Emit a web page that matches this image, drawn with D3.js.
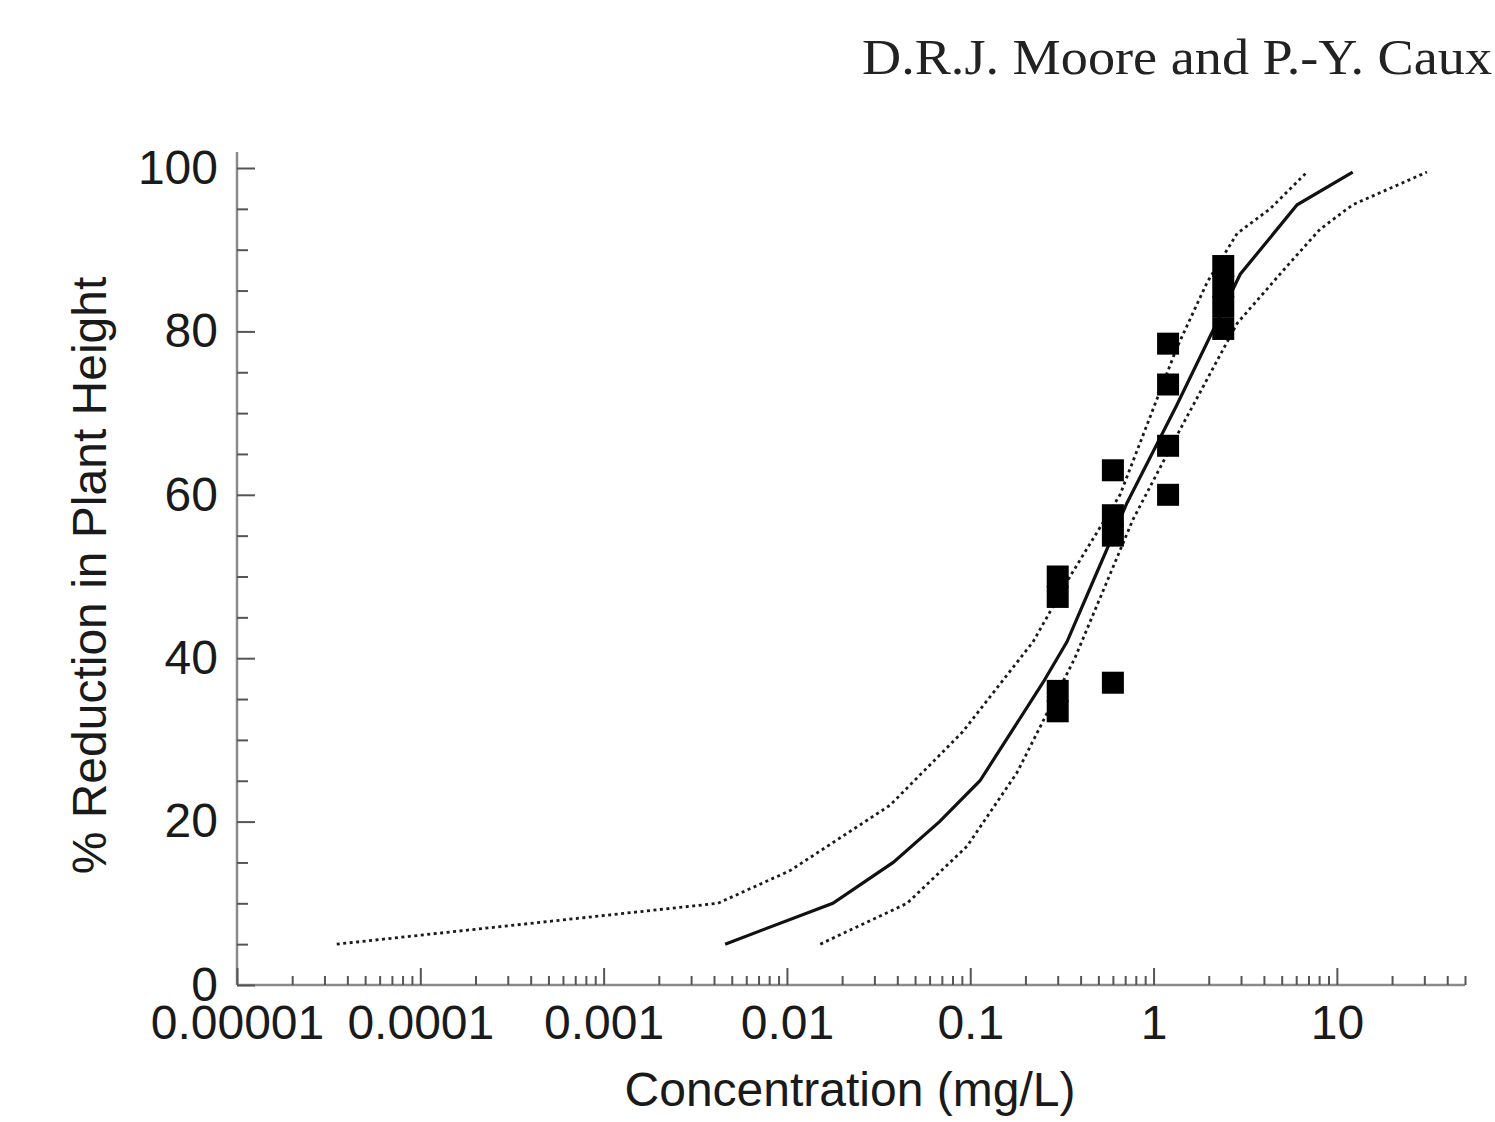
<!DOCTYPE html>
<html>
<head>
<meta charset="utf-8">
<script src="https://cdn.jsdelivr.net/npm/d3@7"></script>
<style>
    body { margin: 0; background: #fff; }
    svg { display: block; }
    .axis text { font-family: "Liberation Sans", Arial, sans-serif; font-size: 48px; fill: #1a1a1a; }
    .axis path { display: none; }
    .axis line { stroke: #555; stroke-width: 2; }
    .axisLine { stroke: #8a8a8a; stroke-width: 2.5; }
    .title { font-family: "Liberation Sans", Arial, sans-serif; font-size: 48px; fill: #1a1a1a; text-anchor: middle; }
    #header { font-family: "Liberation Serif", "Times New Roman", serif; font-size: 50px; fill: #222; text-anchor: end; }
</style>
</head>
<body>
<script>
'use strict';

// observed responses (mg/L, % reduction)
const obsConc = [0.3, 0.3, 0.3, 0.3, 0.6, 0.6, 0.6, 0.6, 1.2, 1.2, 1.2, 1.2, 2.4, 2.4, 2.4, 2.4];
const obsPct = [50, 47.5, 36, 33.5, 63, 57.5, 55, 37, 78.5, 73.5, 66, 60, 88, 85.5, 83, 80.3];

// fitted curve
const fitConc = [0.0046, 0.0178, 0.038, 0.068, 0.113, 0.249, 0.337, 0.48, 0.716, 1.34, 2.97, 6.07, 12.2];
const fitPct = [5, 10, 15, 20, 25, 37, 42, 50, 59, 71, 87, 95.5, 99.5];

// upper confidence limit (left dotted line)
const upperConc = [0.000035, 0.0042, 0.0104, 0.0365, 0.091, 0.22, 0.35, 0.656, 1.34, 1.96, 2.86, 4.32, 6.87];
const upperPct = [5, 10, 14, 22, 31, 42, 50, 60, 78, 86, 92, 95, 99.5];

// lower confidence limit (right dotted line)
const lowerConc = [0.0152, 0.0452, 0.0962, 0.18, 0.372, 0.773, 1.396, 2.86, 5.35, 8.09, 12.2, 31.0];
const lowerPct = [5, 10, 17, 26, 40, 57, 68, 81, 88, 92.5, 95.5, 99.5];

const xTickValues = [0.00001, 0.0001, 0.001, 0.01, 0.1, 1, 10];
const xTickLabels = ['0.00001', '0.0001', '0.001', '0.01', '0.1', '1', '10'];
const yTickValues = [0, 20, 40, 60, 80, 100];
const yMinorTicks = [5, 10, 15, 25, 30, 35, 45, 50, 55, 65, 70, 75, 85, 90, 95];

(function () {

    function getPlotArea() {
        const plot = {
            svg: { width: 1495, height: 1122 },
            padding: { top: 168, right: 25, bottom: 137, left: 237 }
        };
        plot.range = {
            x: 1228,
            y: plot.svg.height - plot.padding.top - plot.padding.bottom
        };
        return plot;
    }

    function makeScales(plot) {
        return {
            x: d3.scaleLog().domain([0.00001, 50]).range([0, plot.range.x]),
            y: d3.scaleLinear().domain([0, 100]).range([plot.range.y, 0])
        };
    }

    function xMinorValues(scales) {
        const vals = [];
        const [lo, hi] = scales.x.domain();
        for (let e = -5; e <= 1; e++) {
            for (let m = 2; m <= 9; m++) {
                const v = m * Math.pow(10, e);
                if (v >= lo && v <= hi) vals.push(v);
            }
        }
        return vals;
    }

    function appendAxes(g, scales, plot) {
        // axis lines
        g.append('line').attr('class', 'axisLine')
            .attr('x1', 0).attr('x2', 0)
            .attr('y1', scales.y(0)).attr('y2', scales.y(100) - 16);
        g.append('line').attr('class', 'axisLine')
            .attr('x1', 0).attr('x2', plot.range.x)
            .attr('y1', scales.y(0)).attr('y2', scales.y(0));

        // y ticks point inward
        g.append('g').attr('class', 'axis')
            .call(d3.axisLeft(scales.y).tickValues(yTickValues)
                .tickSizeInner(-18).tickSizeOuter(0).tickPadding(19));
        g.append('g').attr('class', 'axis')
            .call(d3.axisLeft(scales.y).tickValues(yMinorTicks)
                .tickSizeInner(-11).tickSizeOuter(0).tickFormat(''));

        // x ticks point upward
        g.append('g').attr('class', 'axis')
            .attr('transform', 'translate(0,' + plot.range.y + ')')
            .call(d3.axisBottom(scales.x).tickValues(xTickValues)
                .tickSizeInner(-17).tickSizeOuter(0).tickPadding(20)
                .tickFormat((d, i) => xTickLabels[i]));
        g.append('g').attr('class', 'axis')
            .attr('transform', 'translate(0,' + plot.range.y + ')')
            .call(d3.axisBottom(scales.x).tickValues(xMinorValues(scales))
                .tickSizeInner(-9).tickSizeOuter(0).tickFormat(''));
    }

    function appendCurve(g, scales, conc, pct, dashed) {
        const line = d3.line()
            .x((d) => scales.x(d[0]))
            .y((d) => scales.y(d[1]));
        g.append('path')
            .datum(conc.map((c, i) => [c, pct[i]]))
            .attr('fill', 'none')
            .attr('stroke', dashed ? '#1a1a1a' : '#111')
            .attr('stroke-width', dashed ? 2.8 : 3.2)
            .attr('stroke-dasharray', dashed ? '3,3.5' : null)
            .attr('d', line);
    }

    function appendPoints(g, scales) {
        const s = 22;
        g.append('g').selectAll('rect')
            .data(obsConc.map((c, i) => [c, obsPct[i]]))
            .enter()
            .append('rect')
            .attr('x', (d) => scales.x(d[0]) - s / 2)
            .attr('y', (d) => scales.y(d[1]) - s / 2)
            .attr('width', s)
            .attr('height', s)
            .attr('fill', '#000');
    }

    function appendTitles(svg, plot) {
        svg.append('text')
            .attr('id', 'header')
            .attr('x', 1492)
            .attr('y', 74)
            .attr('textLength', 630)
            .attr('lengthAdjust', 'spacingAndGlyphs')
            .text('D.R.J. Moore and P.-Y. Caux');
        svg.append('text')
            .attr('class', 'title')
            .attr('x', 850)
            .attr('y', 1106)
            .text('Concentration (mg/L)');
        svg.append('text')
            .attr('class', 'title')
            .attr('transform', 'translate(106,' + (plot.padding.top + plot.range.y / 2 - 1) + ') rotate(-90)')
            .text('% Reduction in Plant Height');
    }

    function draw() {
        const plot = getPlotArea();
        const svg = d3.select('body').append('svg')
            .attr('width', plot.svg.width)
            .attr('height', plot.svg.height);
        const g = svg.append('g')
            .attr('transform', 'translate(' + plot.padding.left + ',' + plot.padding.top + ')');
        const scales = makeScales(plot);
        appendAxes(g, scales, plot);
        appendCurve(g, scales, upperConc, upperPct, true);
        appendCurve(g, scales, lowerConc, lowerPct, true);
        appendCurve(g, scales, fitConc, fitPct, false);
        appendPoints(g, scales);
        appendTitles(svg, plot);
    }

    window.onload = draw;

})();
</script>
</body>
</html>
